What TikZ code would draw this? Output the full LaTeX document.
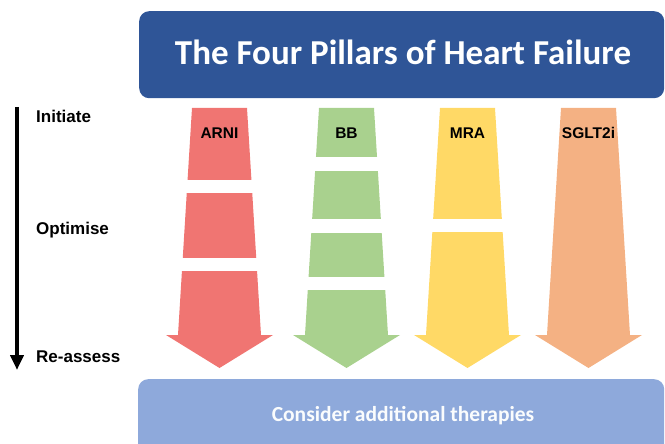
\documentclass[tikz,border=0pt]{standalone}
\usepackage{fontspec}
\usetikzlibrary{arrows.meta}
\setmainfont{Liberation Sans}
\newfontfamily\calfont{Carlito}
\definecolor{titleblue}{HTML}{2F5597}
\definecolor{boxblue}{HTML}{8EA9DB}
\definecolor{arnired}{HTML}{F07572}
\definecolor{bbgreen}{HTML}{A9D18E}
\definecolor{mrayellow}{HTML}{FFD966}
\definecolor{sgltorange}{HTML}{F4B183}
\tikzset{
  stagelabel/.style={anchor=base west,font=\fontsize{17}{17}\selectfont\bfseries,inner sep=0pt},
  druglabel/.style={anchor=base,font=\fontsize{15.5}{16}\selectfont\bfseries,inner sep=0pt},
  gapbar/.style={fill=white,draw=none},
}
% #1 centre x, #2 colour
\newcommand{\pillarshape}[2]{%
  \fill[#2] (#1-27.5,108) -- (#1+27.5,108) -- (#1+41.5,335) -- (#1+53.5,335)
    -- (#1,368) -- (#1-53.5,335) -- (#1-41.5,335) -- cycle;}
\newcommand{\gapcut}[3]{\fill[gapbar] (#1-60,#2) rectangle (#1+60,#3);}
\begin{document}
\begin{tikzpicture}[x=1pt,y=-1pt]
\useasboundingbox (0,0) rectangle (665,444);
\clip (0,0) rectangle (665,444);
% title box
\node[fill=titleblue,rounded corners=10pt,minimum width=525pt,minimum height=87pt,
  anchor=north west,inner sep=0pt] (title) at (139,11) {};
\node[anchor=base,text=white,font=\calfont\fontsize{35}{35}\selectfont\bfseries,inner sep=0pt]
  (titletext) at (403,65) {The Four Pillars of Heart Failure};
% bottom box
\node[fill=boxblue,rounded corners=10pt,minimum width=526pt,minimum height=80pt,
  anchor=north west,inner sep=0pt] (bottom) at (138,379) {};
\node[anchor=base,text=white!96!boxblue,font=\calfont\fontsize{21.5}{22}\selectfont\bfseries,inner sep=0pt]
  (bottomtext) at (403,421) {Consider additional therapies};
% pillars
\pillarshape{219.5}{arnired}
\gapcut{219.5}{180}{193}
\gapcut{219.5}{258}{271}
\pillarshape{346.5}{bbgreen}
\gapcut{346.5}{157}{171}
\gapcut{346.5}{219}{233}
\gapcut{346.5}{277}{290}
\pillarshape{467.5}{mrayellow}
\gapcut{467.5}{219}{232}
\pillarshape{588.5}{sgltorange}
\node[druglabel] (arni) at (219.5,139) {ARNI};
\node[druglabel] (bb) at (346.5,139) {BB};
\node[druglabel] (mra) at (467.5,139) {MRA};
\node[druglabel] (sglt) at (588.5,139) {SGLT2i};
% timeline
\node[stagelabel] (init) at (36,123) {Initiate};
\node[stagelabel] (opt) at (36,234) {Optimise};
\node[stagelabel] (reas) at (36,362) {Re-assess};
\coordinate (tltop) at (17,107);
\coordinate (tlbot) at (17,370);
\draw[line width=4pt,-{Triangle[width=13pt,length=15pt]}] (tltop) -- (tlbot);
\end{tikzpicture}
\end{document}
